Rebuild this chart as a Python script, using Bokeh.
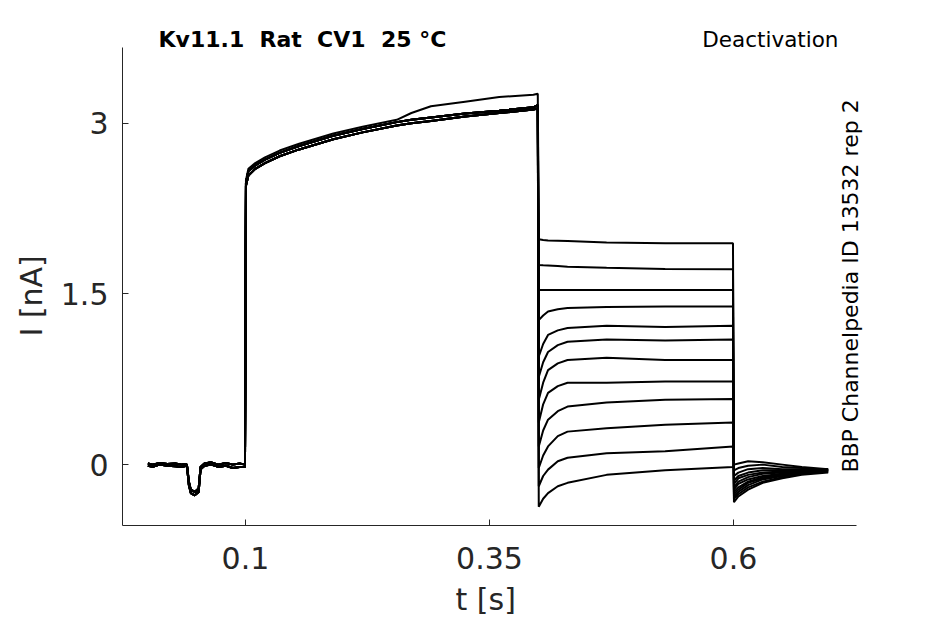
import math
from bokeh.plotting import figure
from bokeh.models import ColumnDataSource, Range1d, FixedTicker, Label, Title
from bokeh.embed import file_html
from bokeh.resources import INLINE

# ---------------- data ----------------
# holding period (t in s, I in nA)
t_hold = [0.0, 0.005, 0.012, 0.02, 0.028, 0.035, 0.040, 0.042, 0.044, 0.048,
          0.052, 0.054, 0.058, 0.065, 0.072, 0.08, 0.087, 0.094, 0.0995]
hold_a = [0.01, 0.0, 0.015, 0.005, 0.01, 0.0, 0.0, -0.15, -0.22, -0.24,
          -0.21, -0.02, 0.01, 0.02, 0.0, 0.015, 0.0, 0.01, 0.0]
hold_b = [-0.01, -0.02, 0.0, -0.01, -0.015, -0.02, -0.01, -0.18, -0.25, -0.27,
          -0.24, -0.04, -0.01, 0.0, -0.02, -0.01, -0.03, -0.02, -0.02]

# activating step
t_act = [0.1005, 0.103, 0.11, 0.12, 0.135, 0.155, 0.19, 0.22, 0.255, 0.27,
         0.29, 0.325, 0.36, 0.395, 0.3995]
act_hi = [2.50, 2.60, 2.65, 2.70, 2.76, 2.82, 2.91, 2.97, 3.03, 3.09,
          3.15, 3.19, 3.23, 3.25, 3.26]
act_mid = [2.48, 2.58, 2.63, 2.68, 2.74, 2.80, 2.89, 2.95, 3.01, 3.03,
           3.05, 3.085, 3.11, 3.14, 3.16]
act_lo = [2.45, 2.54, 2.60, 2.65, 2.71, 2.77, 2.86, 2.92, 2.98, 3.00,
          3.02, 3.06, 3.09, 3.12, 3.13]

# deactivating (tail) steps, one row per sweep
t_tail = [0.4005, 0.405, 0.41, 0.42, 0.43, 0.47, 0.53, 0.5995]
tail = [
    [1.98, 1.975, 1.97, 1.968, 1.965, 1.953, 1.946, 1.945],
    [1.754, 1.752, 1.75, 1.745, 1.74, 1.73, 1.72, 1.716],
    [1.535, 1.535, 1.535, 1.535, 1.535, 1.535, 1.535, 1.535],
    [1.27, 1.31, 1.345, 1.365, 1.377, 1.386, 1.39, 1.39],
    [0.95, 1.06, 1.14, 1.18, 1.20, 1.22, 1.21, 1.22],
    [0.77, 0.90, 0.99, 1.05, 1.08, 1.10, 1.09, 1.10],
    [0.57, 0.72, 0.83, 0.89, 0.92, 0.94, 0.92, 0.92],
    [0.37, 0.53, 0.63, 0.69, 0.72, 0.72, 0.73, 0.73],
    [0.16, 0.30, 0.395, 0.47, 0.51, 0.547, 0.57, 0.576],
    [-0.03, 0.08, 0.16, 0.25, 0.29, 0.32, 0.35, 0.37],
    [-0.19, -0.10, -0.044, 0.03, 0.06, 0.10, 0.117, 0.16],
    [-0.37, -0.30, -0.25, -0.19, -0.16, -0.09, -0.05, -0.02],
]

# return to holding potential
t_post = [0.6005, 0.605, 0.615, 0.63, 0.65, 0.67, 0.697]
post = [
    [-0.33, -0.28, -0.22, -0.16, -0.12, -0.09, -0.07],
    [-0.30, -0.26, -0.20, -0.15, -0.11, -0.08, -0.06],
    [-0.28, -0.24, -0.18, -0.13, -0.10, -0.08, -0.06],
    [-0.26, -0.22, -0.16, -0.12, -0.09, -0.07, -0.05],
    [-0.24, -0.20, -0.15, -0.11, -0.08, -0.07, -0.06],
    [-0.22, -0.17, -0.13, -0.10, -0.08, -0.06, -0.05],
    [-0.20, -0.15, -0.11, -0.08, -0.07, -0.06, -0.05],
    [-0.17, -0.12, -0.09, -0.07, -0.06, -0.05, -0.05],
    [-0.14, -0.10, -0.07, -0.05, -0.05, -0.05, -0.04],
    [-0.10, -0.07, -0.04, -0.03, -0.04, -0.04, -0.04],
    [-0.05, -0.03, -0.01, 0.00, -0.02, -0.03, -0.05],
    [0.00, 0.01, 0.03, 0.02, 0.00, -0.02, -0.04],
]

act_choice = ["hi", "mid", "lo", "mid", "lo", "mid", "lo", "mid", "lo", "mid", "lo", "mid"]

x_ticks = [0.1, 0.35, 0.6]
x_tick_labels = ["0.1", "0.35", "0.6"]
y_ticks = [0, 1.5, 3]
y_tick_labels = ["0", "1.5", "3"]
x_axis_extent = (-0.026, 0.726)
y_axis_extent = (-0.535, 3.667)

title_text = "Kv11.1\u00a0 Rat\u00a0 CV1\u00a0 25 °C"
protocol_text = "Deactivation"
source_text = "BBP Channelpedia ID 13532 rep 2"
x_label = "t [s]"
y_label = "I [nA]"

# ---------------- build sweeps ----------------
acts = {"hi": act_hi, "mid": act_mid, "lo": act_lo}
xs, ys = [], []
for k in range(len(tail)):
    h = hold_a if k % 2 == 0 else hold_b
    xs.append(t_hold + t_act + t_tail + t_post)
    ys.append(h + acts[act_choice[k]] + tail[k] + post[k])
src = ColumnDataSource(data=dict(xs=xs, ys=ys))

FONT = "DejaVu Sans"
p = figure(width=945, height=624, output_backend="svg", toolbar_location=None,
           x_range=Range1d(-0.026, 0.7404), y_range=Range1d(-0.535, 3.947),
           min_border_left=122, min_border_right=75, min_border_top=15,
           min_border_bottom=98)
p.outline_line_color = None
p.xgrid.visible = False
p.ygrid.visible = False
p.background_fill_color = "white"
p.border_fill_color = "white"

p.multi_line(xs="xs", ys="ys", source=src, line_color="black", line_width=2)

for ax in (p.xaxis[0], p.yaxis[0]):
    ax.axis_line_color = "#262626"
    ax.major_tick_line_color = "#262626"
    ax.major_tick_in = 6
    ax.major_tick_out = 0
    ax.minor_tick_line_color = None
    ax.major_label_text_font = FONT
    ax.major_label_text_font_size = "30px"
    ax.major_label_text_color = "#262626"

p.xaxis.bounds = x_axis_extent
p.yaxis.bounds = y_axis_extent
p.xaxis.ticker = FixedTicker(ticks=x_ticks)
p.yaxis.ticker = FixedTicker(ticks=y_ticks)
p.xaxis.major_label_overrides = {v: s for v, s in zip(x_ticks, x_tick_labels)}
p.yaxis.major_label_overrides = {v: s for v, s in zip(y_ticks, y_tick_labels)}
p.xaxis.major_label_standoff = 21
p.yaxis.major_label_standoff = 14

# axis titles, placed under / beside the drawn axis lines
p.add_layout(Title(text=x_label, align="left", offset=333, standoff=16,
                   text_font=FONT, text_font_size="30px",
                   text_font_style="normal", text_color="#262626"), "below")
p.add_layout(Title(text=y_label, align="left", offset=189, standoff=18,
                   text_font=FONT, text_font_size="30px",
                   text_font_style="normal", text_color="#262626"), "left")

p.add_layout(Label(x=0.0109, y=3.737, text=title_text, text_font=FONT,
                   text_font_size="22px", text_font_style="bold",
                   text_color="black", text_align="left",
                   text_baseline="alphabetic"))
p.add_layout(Label(x=0.7076, y=3.737, text=protocol_text, text_font=FONT,
                   text_font_size="21.5px", text_color="black",
                   text_align="right", text_baseline="alphabetic"))
p.add_layout(Label(x=0.7194, y=1.57, text=source_text, text_font=FONT,
                   text_font_size="22px", text_color="black", angle=math.pi / 2,
                   text_align="center", text_baseline="middle"))

open("out.html", "w").write(file_html(p, INLINE))
